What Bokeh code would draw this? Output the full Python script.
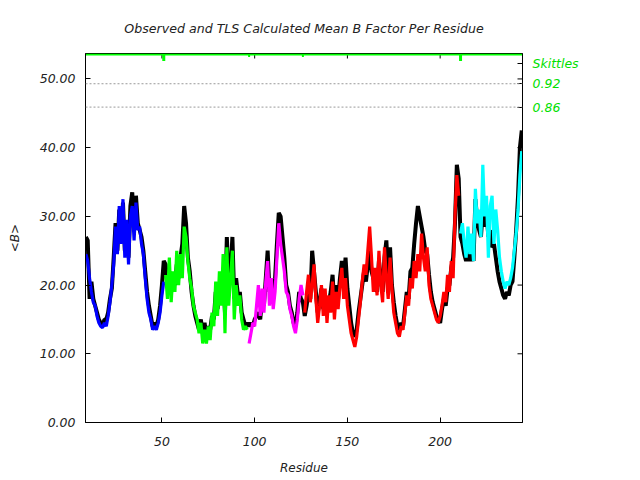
import json
from bokeh.plotting import figure
from bokeh.models import (Range1d, LinearAxis, FixedTicker, Span,
                          NumeralTickFormatter, CustomJSTickFormatter)
from bokeh.embed import file_html
from bokeh.resources import INLINE

# ---------------- data ----------------
residues = list(range(9, 245))

observed = [
    27.0, 26.5, 18.0, 20.5, 18.0, 17.0, 16.0, 15.0, 14.5, 14.0,
    15.0, 15.0, 16.0, 18.0, 19.5, 24.0, 29.0, 25.0, 31.0, 27.0,
    32.0, 25.0, 29.0, 24.0, 31.5, 33.5, 28.0, 33.0, 29.0, 28.0,
    27.0, 25.0, 22.0, 19.0, 17.0, 15.5, 14.0, 14.5, 14.0, 15.0,
    17.0, 20.0, 23.5,
    23.0, 20.0, 22.0, 19.0, 21.0, 20.0, 23.0, 21.0, 24.0, 26.0,
    31.5, 29.0, 24.0, 22.0, 19.0, 17.0, 15.5, 14.5, 13.5, 15.0,
    13.0, 14.5, 12.5, 14.0, 13.5, 15.5, 15.0, 19.0, 16.5, 20.0,
    18.0, 21.5, 16.0, 27.0, 20.0, 22.0, 27.0, 18.0, 21.0, 18.5,
    19.0, 16.0, 15.0, 14.0, 14.5,
    14.0, 14.5, 14.0, 15.0, 15.5, 16.0, 15.0, 18.0, 17.0, 21.0,
    25.0, 19.0, 20.0, 18.0, 21.0, 26.0, 30.5, 30.0, 27.0, 24.0,
    20.0, 19.0, 17.0, 16.0, 14.5, 14.0, 16.0, 19.0, 18.0, 17.5,
    15.5, 17.0, 19.0, 18.0, 25.0, 22.0, 19.0, 16.0, 17.5, 19.5,
    16.5, 18.0, 16.0, 17.5, 19.0, 21.5, 17.0, 20.0, 18.0, 21.0,
    23.5, 20.0, 24.0, 19.5, 17.0, 14.5, 13.0, 12.5, 13.5, 16.0,
    18.0, 20.0, 22.0, 20.5, 23.0, 25.0, 22.0, 21.0, 20.5, 19.0,
    23.5, 21.0, 19.0, 24.0, 26.5, 21.0, 25.5, 20.0, 17.5, 15.5,
    14.0, 13.5, 14.5, 14.0, 16.5, 19.0, 18.0, 22.0, 22.5, 26.0,
    29.0, 31.5, 30.0, 28.5, 27.0, 25.0, 24.5, 21.5, 19.0, 17.5,
    16.5, 15.5, 15.0, 14.5, 16.5, 18.0, 17.0, 19.5, 20.0, 22.5,
    24.0, 29.0, 37.5, 35.5,
    27.0, 26.0, 24.5, 23.5, 25.0, 23.5, 24.5, 23.5, 32.5, 29.5,
    28.0, 27.0, 31.0, 28.5, 30.5, 27.0, 28.0, 25.5, 26.0, 24.0,
    22.0, 20.5, 19.5, 18.5, 18.0, 19.0, 18.5, 20.0, 20.5, 24.0,
    28.0, 33.0, 40.0, 42.5,
]

# TLS groups: first residue, colour, calculated values
group_starts = [9, 52, 97, 127, 211]
group_colors = ["#0000ff", "#00ff00", "#ff00ff", "#ff0000", "#00ffff"]
tls_blue = [
    24.5, 23.5, 21.0, 19.0, 17.5, 17.0, 15.5, 14.5, 14.0, 13.8,
    14.5, 14.0, 15.5, 17.5, 20.0, 23.0, 28.5, 24.5, 31.5, 26.0,
    32.5, 24.0, 29.5, 23.0, 30.0, 31.5, 26.5, 32.0, 28.0, 28.5,
    26.0, 24.5, 21.0, 18.0, 16.0, 15.0, 13.5, 14.0, 13.5, 14.5,
    16.0, 18.5, 20.5,
]
tls_green = [
    21.5, 18.0, 24.0, 17.5, 22.0, 19.0, 25.0, 20.0, 24.5, 21.0,
    28.5, 27.0, 23.5, 21.0, 19.5, 17.0, 16.0, 15.0, 13.0, 14.5,
    11.5, 13.5, 11.5, 14.0, 12.0, 16.0, 14.0, 20.5, 15.5, 22.0,
    17.0, 24.5, 13.0, 25.5, 17.0, 21.0, 25.0, 15.0, 20.0, 17.0,
    18.5, 15.0, 13.5, 14.0, 13.5,
]
tls_magenta = [
    11.5, 13.0, 14.5, 14.0, 17.0, 20.0, 15.5, 19.5, 16.0, 20.5,
    23.5, 17.0, 21.0, 16.5, 19.0, 24.0, 29.0, 26.0, 24.0, 22.0,
    19.0, 18.5, 16.5, 15.5, 14.0, 13.0, 15.0, 18.0, 20.0, 18.5,
]
tls_red = [
    16.0, 19.0, 21.5, 17.5, 20.0, 23.0, 18.0, 14.5, 17.0, 20.0,
    15.5, 19.5, 14.5, 18.5, 16.0, 20.5, 15.0, 19.0, 16.5, 20.0,
    22.5, 18.0, 21.0, 17.0, 15.0, 13.0, 12.0, 11.0, 12.5, 15.0,
    17.5, 20.5, 23.0, 21.5, 25.0, 28.5, 24.0, 19.0, 22.5, 18.5,
    25.0, 20.0, 17.5, 25.5, 21.0, 18.0, 24.0, 19.5, 16.0, 14.5,
    13.0, 12.5, 14.0, 13.5, 16.0, 18.5, 17.0, 21.0, 19.5, 23.5,
    21.0, 24.5, 22.0, 27.5, 24.0, 22.0, 25.5, 20.0, 18.0, 17.0,
    16.0, 15.0, 14.5, 15.5, 17.0, 19.0, 17.5, 21.5, 19.0, 23.5,
    21.0, 30.0, 36.0, 33.0,
]
tls_cyan = [
    27.5, 29.0, 26.0, 24.0, 28.5, 24.5, 27.5, 23.5, 34.0, 29.0,
    31.0, 27.0, 37.5, 30.0, 33.0, 24.0, 31.5, 33.0, 26.0, 31.0,
    28.0, 24.0, 22.0, 20.5, 19.5, 20.5, 20.0, 21.0, 22.5, 25.0,
    27.5, 31.0, 36.0, 39.5,
]
tls_groups = [tls_blue, tls_green, tls_magenta, tls_red, tls_cyan]

# skittle bar
skittle_level = 53.55
skittle_major_bounds = [51, 211]
skittle_minor_bounds = [97, 126]
skittle_labels = ["Skittles", "0.92", "0.86"]
skittle_label_values = [52.3, 49.3, 45.9]
threshold_lines = [49.3, 45.9]

x_ticks = [50, 100, 150, 200]
y_ticks = [0, 10, 20, 30, 40, 50]

X0, X1 = 8.8, 244.4
Y0, Y1 = 0.0, 53.7
FRAME_W, FRAME_H = 437, 369

# ---------------- figure ----------------
FONT = "DejaVu Sans"
TXT = "#222222"

p = figure(frame_width=FRAME_W, frame_height=FRAME_H,
           output_backend="svg", toolbar_location=None,
           x_range=Range1d(X0, X1), y_range=Range1d(Y0, Y1),
           min_border_left=85, min_border_right=110, min_border_top=53,
           min_border_bottom=50, background_fill_color="white",
           border_fill_color="white")
p.grid.visible = False
p.outline_line_color = "black"
p.outline_line_alpha = 1
p.outline_line_width = 1

p.title.text = "Observed and TLS Calculated Mean B Factor Per Residue"
p.title.align = "center"
p.title.text_font = FONT
p.title.text_font_style = "italic"
p.title.text_font_size = "12.6px"
p.title.text_color = TXT
p.title.standoff = 36

def style_axis(ax):
    ax.major_tick_in = 5
    ax.major_tick_out = 0
    ax.minor_tick_line_color = None
    ax.axis_line_color = "black"
    ax.major_tick_line_color = "black"
    ax.major_label_text_font = FONT
    ax.major_label_text_font_style = "italic"
    ax.major_label_text_font_size = "12.5px"
    ax.major_label_text_color = TXT
    ax.axis_label_text_font = FONT
    ax.axis_label_text_font_style = "italic"
    ax.axis_label_text_font_size = "12px"
    ax.axis_label_text_color = TXT

ya = p.yaxis[0]
style_axis(ya)
ya.ticker = FixedTicker(ticks=y_ticks)
ya.formatter = NumeralTickFormatter(format="0.00")
ya.axis_label = "<B>"
ya.major_label_standoff = 10
ya.axis_label_standoff = 15

xa = p.xaxis[0]
style_axis(xa)
xa.ticker = FixedTicker(ticks=x_ticks)
xa.axis_label = "Residue"
xa.major_label_standoff = 14
xa.axis_label_standoff = 12

fmt_code = ("const t=%s; const l=%s; for (let i=0;i<t.length;i++){"
            " if (Math.abs(tick-t[i])<1e-6) return l[i]; } return '';"
            % (json.dumps(skittle_label_values), json.dumps(skittle_labels)))
right = LinearAxis(ticker=FixedTicker(ticks=skittle_label_values),
                   formatter=CustomJSTickFormatter(code=fmt_code))
style_axis(right)
right.major_label_text_color = "#00e000"
right.major_label_standoff = 10
p.add_layout(right, "right")

# inward ticks mirrored on the top and right frame edges
tick_dx = 5 / (FRAME_W / (X1 - X0))
tick_dy = 5 / (FRAME_H / (Y1 - Y0))
p.segment(x0=x_ticks, x1=x_ticks, y0=[Y1] * len(x_ticks),
          y1=[Y1 - tick_dy] * len(x_ticks), line_color="black", line_width=1)
p.segment(x0=[X1] * len(y_ticks), x1=[X1 - tick_dx] * len(y_ticks),
          y0=y_ticks, y1=y_ticks, line_color="black", line_width=1)

for v in threshold_lines:
    p.add_layout(Span(location=v, dimension="width", line_color="#999999",
                      line_dash="2 2", line_width=1))

# observed
p.line(residues, observed, line_color="black", line_width=4)

# TLS groups
for start, col, vals in zip(group_starts, group_colors, tls_groups):
    xs = list(range(start, start + len(vals)))
    p.line(xs, vals, line_color=col, line_width=3.2)

# skittles
p.line([residues[0] - 0.2, X1], [skittle_level, skittle_level],
       line_color="#00ff00", line_width=2)
p.segment(x0=skittle_major_bounds, x1=skittle_major_bounds,
          y0=[skittle_level] * len(skittle_major_bounds),
          y1=[skittle_level - 0.95] * len(skittle_major_bounds),
          line_color="#00ff00", line_width=3)
p.segment(x0=skittle_minor_bounds, x1=skittle_minor_bounds,
          y0=[skittle_level] * len(skittle_minor_bounds),
          y1=[skittle_level - 0.35] * len(skittle_minor_bounds),
          line_color="#00ff00", line_width=2)

open("out.html", "w").write(file_html(p, INLINE))
